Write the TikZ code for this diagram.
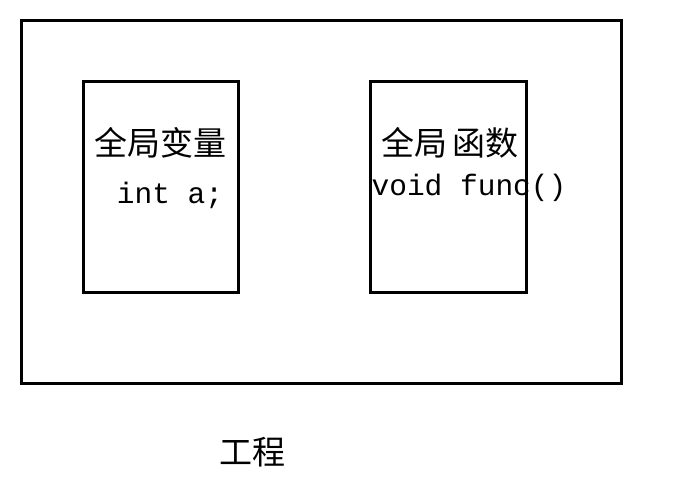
\documentclass[tikz,border=0pt]{standalone}
\usepackage{fontspec}
\newfontfamily\cjk{Noto Sans CJK SC}
\setmonofont{Liberation Mono}
\begin{document}
\begin{tikzpicture}[x=1pt,y=-1pt,
  box/.style={draw,line width=3pt},
  cj/.style={font=\cjk\fontsize{33}{35}\selectfont,inner sep=0pt},
  mono/.style={font=\ttfamily\fontsize{29.5}{31}\selectfont,inner sep=0pt}]
\useasboundingbox (0,0) rectangle (692,481);
\draw[box] (21,21) rectangle (621,383);
\draw[box] (83,82) rectangle (238,292);
\draw[box] (370,82) rectangle (526,292);
\node[cj] (g1) at (160,143) {全局变量};
\node[mono] (c1) at (170,195) {int a;};
\node[cj] (g2) at (450,143) {全局\,函数};
\node[mono] (c2) at (469,188) {void func()};
\node[cj] (p) at (252,452) {工程};
\end{tikzpicture}
\end{document}
